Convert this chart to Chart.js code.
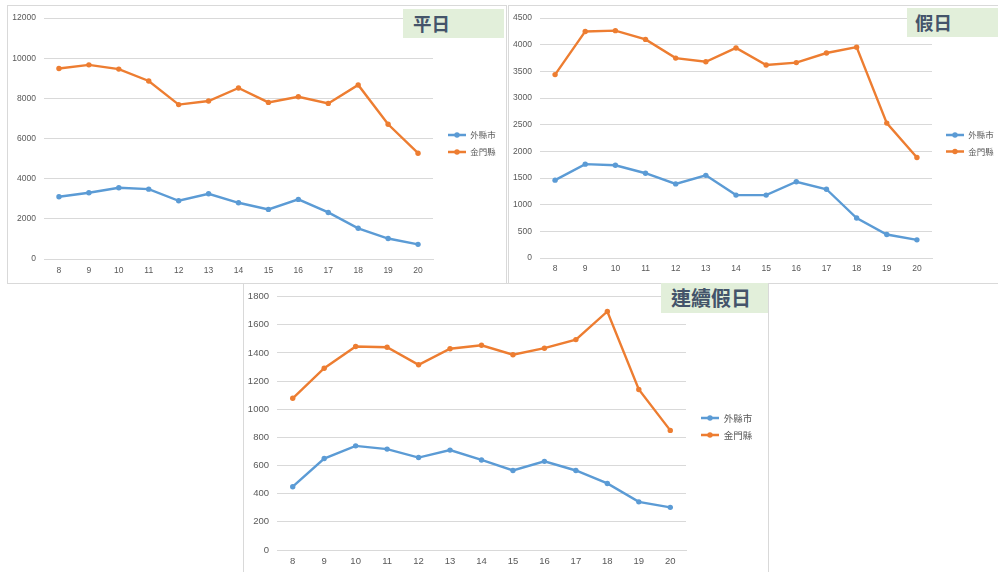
<!DOCTYPE html>
<html><head><meta charset="utf-8">
<script src="https://cdn.jsdelivr.net/npm/chart.js@4/dist/chart.umd.min.js"></script>
<style>
html,body{margin:0;padding:0;background:#fff;overflow:hidden;width:998px;height:572px;}
.panel{position:absolute;border:1px solid #d9d9d9;background:#fff;box-sizing:border-box;}
canvas{position:absolute;}
.tag{position:absolute;background:#e2efda;color:#44546a;font-family:'Noto Sans CJK TC',sans-serif;font-weight:bold;box-sizing:border-box;white-space:nowrap;}
</style></head>
<body>
<div class="panel" style="left:7px;top:5px;width:500px;height:279px;"></div>
<canvas id="c1" width="499" height="278" style="left:7px;top:5px;"></canvas>
<div class="panel" style="left:508px;top:5px;width:492px;height:279px;"></div>
<canvas id="c2" width="490" height="278" style="left:508px;top:5px;"></canvas>
<div class="panel" style="left:243px;top:283px;width:526px;height:292px;"></div>
<canvas id="c3" width="525" height="289" style="left:243px;top:283px;"></canvas>
<div class="tag" id="t1" style="left:403px;top:9px;width:101px;height:29px;font-size:18.5px;line-height:29px;padding-left:10px;"></div>
<div class="tag" id="t2" style="left:907px;top:8px;width:91px;height:29px;font-size:18.5px;line-height:29px;padding-left:8px;"></div>
<div class="tag" id="t3" style="left:661px;top:283px;width:107px;height:30px;font-size:20px;line-height:30px;padding-left:10px;"></div>
<script>
// ---- data ----
const hours = ['8','9','10','11','12','13','14','15','16','17','18','19','20'];
const seriesNames = ['外縣市','金門縣'];
const panelTitles = ['平日','假日','連續假日'];
const weekdayOther  = [3100,3300,3550,3480,2900,3250,2800,2470,2970,2320,1530,1020,730];
const weekdayKinmen = [9490,9670,9460,8870,7690,7870,8520,7800,8080,7750,8670,6710,5270];
const holidayOther  = [1460,1760,1740,1590,1390,1550,1180,1180,1430,1290,750,440,340];
const holidayKinmen = [3440,4250,4265,4100,3750,3680,3940,3620,3665,3845,3955,2530,1885];
const longOther     = [450,650,740,717,657,710,640,565,630,565,473,342,303];
const longKinmen    = [1078,1292,1446,1441,1316,1430,1455,1388,1434,1495,1695,1141,850];
const yMaxes = [12000,4500,1800];
const ySteps = [2000,500,200];

// ---- style ----
const BLUE = '#5b9bd5', ORANGE = '#ed7d31', GRID = '#d9d9d9', TXT = '#595959';
const NUMFONT = "'Liberation Sans', sans-serif";
const CJKFONT = "'Noto Sans CJK TC', sans-serif";
const LINEW = 2.4;

const legendPlacer = {
  id: 'legendPlacer',
  afterLayout(chart, args, o) {
    const lg = chart.legend;
    if (!lg) return;
    lg.left = o.x - o.pad; lg.top = o.y - o.fs / 2 - o.pad;
    lg.width = 160; lg.height = 90;
    lg.right = lg.left + 160; lg.bottom = lg.top + 90;
  },
  afterDraw(chart, args, o) {
    const ctx = chart.ctx;
    chart.data.datasets.forEach((ds, i) => {
      ctx.save();
      ctx.fillStyle = ds.borderColor;
      ctx.beginPath();
      ctx.arc(o.x + o.bw / 2, o.y + i * (o.fs + o.pad), 2.7, 0, Math.PI * 2);
      ctx.fill();
      ctx.restore();
    });
  }
};

function makeChart(id, other, kinmen, yMax, yStep, L) {
  const cv = document.getElementById(id);
  const W = cv.width, H = cv.height, XH = 20;
  const mk = (label, data, color) => ({
    label, data, borderColor: color, backgroundColor: color,
    borderWidth: LINEW, pointRadius: 2.7, pointBorderWidth: 0,
    pointBackgroundColor: color, tension: 0
  });
  new Chart(cv, {
    type: 'line',
    data: { labels: hours, datasets: [mk(seriesNames[0], other, BLUE), mk(seriesNames[1], kinmen, ORANGE)] },
    options: {
      responsive: false, animation: false, devicePixelRatio: 1,
      layout: { padding: { left: 0, top: L.top, right: W - L.right, bottom: H - L.bottom - XH } },
      scales: {
        x: {
          offset: true,
          grid: { display: false, drawTicks: false },
          border: { display: true, color: GRID, width: 1 },
          ticks: { color: TXT, font: { size: L.fs, family: NUMFONT }, padding: L.xpad, maxRotation: 0, autoSkip: false },
          afterFit(s) { s.height = XH; }
        },
        y: {
          min: 0, max: yMax,
          ticks: { stepSize: yStep, color: TXT, font: { size: L.fs, family: NUMFONT }, padding: 8,
            callback: v => String(v) },
          grid: { color: GRID, lineWidth: 1, drawTicks: false },
          border: { display: false },
          afterFit(s) { s.width = L.left; }
        }
      },
      plugins: {
        legend: {
          position: 'chartArea', align: 'start',
          labels: { usePointStyle: true, pointStyle: 'line', pointStyleWidth: 18, padding: L.lpad,
            color: TXT, font: { size: L.fs, family: CJKFONT },
            generateLabels(chart) {
              const items = Chart.defaults.plugins.legend.labels.generateLabels(chart);
              items.forEach((it, i) => {
                it.lineWidth = LINEW;
                it.strokeStyle = chart.data.datasets[i].borderColor;
                it.fillStyle = chart.data.datasets[i].borderColor;
                it.pointStyle = 'line';
              });
              return items;
            } }
        },
        tooltip: { enabled: false },
        legendPlacer: { x: L.lx, y: L.ly, pad: L.lpad, fs: L.fs, bw: 18 }
      }
    },
    plugins: [legendPlacer]
  });
}

makeChart('c1', weekdayOther, weekdayKinmen, yMaxes[0], ySteps[0],
  { left: 37, right: 426, top: 11, bottom: 254, fs: 8.5, xpad: 7, lx: 441, ly: 130, lpad: 8.5 });
makeChart('c2', holidayOther, holidayKinmen, yMaxes[1], ySteps[1],
  { left: 32, right: 424, top: 11, bottom: 253, fs: 8.5, xpad: 6, lx: 438, ly: 130, lpad: 8 });
makeChart('c3', longOther, longKinmen, yMaxes[2], ySteps[2],
  { left: 34, right: 443, top: 9, bottom: 267, fs: 9.5, xpad: 6, lx: 458, ly: 135, lpad: 7.5 });

document.getElementById('t1').textContent = panelTitles[0];
document.getElementById('t2').textContent = panelTitles[1];
document.getElementById('t3').textContent = panelTitles[2];
</script>
</body></html>
